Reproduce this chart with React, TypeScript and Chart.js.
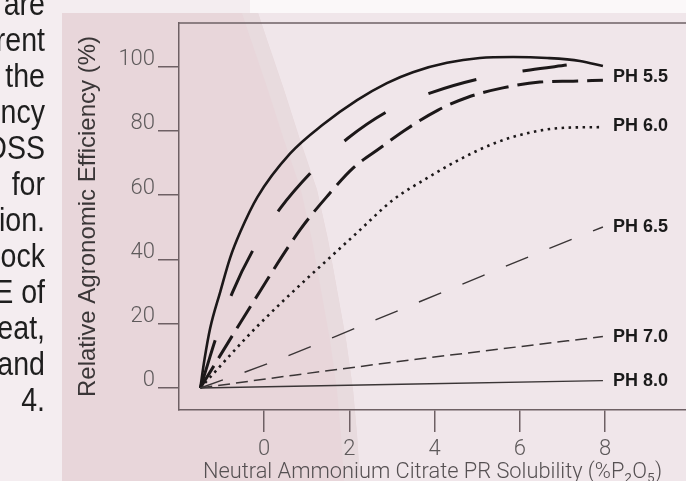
import React, { useEffect, useRef } from "react";
import { Chart, registerables } from "chart.js";

Chart.register(...registerables);

// ---------- data ----------
const xTicks = [0, 2, 4, 6, 8];
const yTicks = [0, 20, 40, 60, 80, 100];

const xTitle = "Neutral Ammonium Citrate PR Solubility (%P\u2082O\u2085)";
const yTitle = "Relative Agronomic Efficiency (%)";

// PH 5.5 family (three thick curves)
const ph55SolidX = [-1.5, -1.4, -1.27, -1.03, -0.8, -0.56, -0.16, 0.61, 1.38, 2.18, 2.88, 3.49, 4.29, 5.06, 5.84, 6.64, 7.41, 7.95];
const ph55SolidY = [0, 9, 18.5, 30, 40.5, 48.6, 59.4, 73, 82, 89.6, 94.9, 98.3, 101.2, 102.7, 103, 102.7, 101.8, 100.2];

const ph55LongDashX = [-1.5, -1.34, -1.15, -0.75, -0.26, 0.38, 1.15, 1.97, 2.95, 3.96, 5.13, 6.24, 7.1];
const ph55LongDashY = [0, 6.8, 14.9, 29.6, 43, 56, 67.8, 77.8, 86.5, 92.1, 96.5, 99, 100.5];

const ph55DashX = [-1.5, -0.33, 0.84, 1.5, 2.09, 2.72, 3.31, 4.08, 4.78, 5.6, 6.47, 7.25, 7.95];
const ph55DashY = [0, 25.2, 49.2, 60, 68.5, 74.7, 80.3, 86.5, 90.5, 93.4, 95.2, 95.5, 95.8];

const ph60X = [-1.5, -0.17, 2.25, 3.02, 3.82, 4.6, 5.37, 6.17, 6.94, 7.95];
const ph60Y = [0, 19.1, 49.2, 58.5, 65.3, 71.2, 76, 79.3, 80.9, 81.2];

const ph65X = [-1.5, 0.21, 2.32, 4.48, 6.59, 7.95];
const ph65Y = [0, 8.2, 19.6, 31.4, 42.9, 50.1];

const ph70X = [-1.5, 0.7, 3.8, 7.95];
const ph70Y = [0, 4, 9.3, 16];

const ph80X = [-1.5, 7.95];
const ph80Y = [0, 2.3];

const phLabels = ["PH 5.5", "PH 6.0", "PH 6.5", "PH 7.0", "PH 8.0"];
const phLabelY = [96.8, 81.6, 50.1, 15.9, 2.2];

const sideTextLines = ["are", "rent", "the", "ncy", "DSS", "for", "ion.", "ock", "E of", "eat,", "and", "4."];

// ---------- styles ----------
const axisColor = "#6e6064";
const tickColor = "#5e5a5b";
const lineDark = "#1c1819";
const sans = "'Liberation Sans', Arial, Helvetica, sans-serif";
const light = "Roboto, 'Liberation Sans', Arial, sans-serif";

const toPoints = (xs: number[], ys: number[]) => xs.map((x, i) => ({ x, y: ys[i] }));

const backgroundPlugin = {
  id: "pageBackground",
  beforeDraw(chart: any) {
    const { ctx, width, height } = chart;
    ctx.save();
    // text column / page
    ctx.fillStyle = "#f4edf0";
    ctx.fillRect(0, 0, width, height);
    // top strip to the right of the wedge
    ctx.fillStyle = "#fbf8f9";
    ctx.fillRect(250, 0, width - 250, 13);
    // panel
    ctx.fillStyle = "#f0e6ea";
    ctx.fillRect(62, 13, width - 62, height - 13);
    // pink wedge
    const edge = [
      [258, 13], [267, 40], [284, 90], [300, 140], [317, 190], [328, 240],
      [337, 290], [346, 340], [353, 390], [357, 435], [360, 481],
    ];
    ctx.beginPath();
    ctx.moveTo(62, 13);
    edge.forEach(([x, y]) => ctx.lineTo(x, y));
    ctx.lineTo(62, height);
    ctx.closePath();
    ctx.fillStyle = "#e8d6da";
    ctx.fill();
    // soft edge band
    ctx.beginPath();
    edge.forEach(([x, y], i) => (i === 0 ? ctx.moveTo(x, y) : ctx.lineTo(x, y)));
    for (let i = edge.length - 1; i >= 0; i--) ctx.lineTo(edge[i][0] - 16, edge[i][1]);
    ctx.closePath();
    ctx.fillStyle = "#e8dbde";
    ctx.fill();
    // side paragraph fragment
    ctx.fillStyle = "#1e1e1e";
    ctx.font = "34px " + sans;
    ctx.textAlign = "right";
    ctx.textBaseline = "alphabetic";
    sideTextLines.forEach((t, i) => {
      ctx.save();
      ctx.translate(45, 15 + 36 * i);
      ctx.scale(0.84, 1);
      ctx.fillText(t, 0, 0);
      ctx.restore();
    });
    ctx.restore();
  },
  afterDraw(chart: any) {
    const { ctx, chartArea } = chart;
    const xs = chart.scales.x;
    const ys = chart.scales.y;
    ctx.save();
    ctx.strokeStyle = axisColor;
    ctx.lineWidth = 1.5;
    ctx.beginPath();
    ctx.moveTo(chartArea.left - 0.75, chartArea.top);
    ctx.lineTo(chartArea.right, chartArea.top);
    ctx.stroke();
    ctx.fillStyle = "#1a1a1a";
    ctx.font = "bold 18px " + sans;
    ctx.textAlign = "left";
    ctx.textBaseline = "middle";
    const lx = xs.getPixelForValue(8) + 8;
    phLabels.forEach((t, i) => ctx.fillText(t, lx, ys.getPixelForValue(phLabelY[i])));
    ctx.restore();
  },
};

export default function App() {
  const ref = useRef<HTMLCanvasElement | null>(null);

  useEffect(() => {
    if (!ref.current) return;
    const ds = (label: string, xs: number[], ys: number[], extra: any) => ({
      label,
      data: toPoints(xs, ys),
      borderColor: lineDark,
      pointRadius: 0,
      fill: false,
      cubicInterpolationMode: "monotone",
      borderCapStyle: "butt",
      ...extra,
    });
    const chart = new Chart(ref.current, {
      type: "line",
      data: {
        datasets: [
          ds("PH 8.0", ph80X, ph80Y, { borderWidth: 1.4, borderColor: "#3a3536" }),
          ds("PH 7.0", ph70X, ph70Y, { borderWidth: 1.5, borderDash: [12, 6], borderColor: "#3a3536" }),
          ds("PH 6.5", ph65X, ph65Y, { borderWidth: 1.4, borderDash: [24, 23], borderColor: "#3a3536" }),
          ds("PH 6.0", ph60X, ph60Y, { borderWidth: 2.6, borderDash: [2.5, 4.5] }),
          ds("PH 5.5 (dashed)", ph55DashX, ph55DashY, { borderWidth: 3, borderDash: [26, 9] }),
          ds("PH 5.5 (long dash)", ph55LongDashX, ph55LongDashY, { borderWidth: 3, borderDash: [50, 47] }),
          ds("PH 5.5", ph55SolidX, ph55SolidY, { borderWidth: 2.6 }),
        ],
      },
      options: {
        animation: false,
        responsive: false,
        events: [],
        layout: { padding: { left: 0, right: 0, top: 23, bottom: 0 } },
        plugins: { legend: { display: false }, tooltip: { enabled: false } },
        scales: {
          x: {
            type: "linear",
            min: -2,
            max: 9.9,
            afterBuildTicks: (s: any) => {
              s.ticks = xTicks.map((v) => ({ value: v }));
            },
            afterFit: (s: any) => {
              s.height = 71;
            },
            grid: { drawOnChartArea: false, drawTicks: true, tickLength: 22, color: axisColor, lineWidth: 1.5 },
            border: { display: true, color: axisColor, width: 1.5 },
            ticks: {
              autoSkip: false,
              maxRotation: 0,
              padding: 4,
              color: tickColor,
              font: { family: light, size: 22, weight: "300" },
              callback: (v: any) => String(v),
            },
            title: {
              display: true,
              text: xTitle,
              color: "#555052",
              font: { family: light, size: 21.8, weight: "300", lineHeight: 1 },
              padding: { top: 0, bottom: -2.5 },
            },
          },
          y: {
            type: "linear",
            min: -6.85,
            max: 113.6,
            afterBuildTicks: (s: any) => {
              s.ticks = yTicks.map((v) => ({ value: v }));
            },
            afterFit: (s: any) => {
              s.width = 179;
            },
            grid: { drawOnChartArea: false, drawTicks: true, tickLength: 21, color: axisColor, lineWidth: 1.5 },
            border: { display: true, color: axisColor, width: 1.5 },
            ticks: {
              padding: 3,
              labelOffset: -7,
              color: tickColor,
              font: { family: light, size: 22, weight: "300" },
              callback: (v: any) => String(v),
            },
            title: {
              display: true,
              text: yTitle,
              color: "#3a3637",
              font: { family: sans, size: 24, lineHeight: 1.2 },
              padding: { top: 74.1, bottom: 0 },
            },
          },
        },
      },
      plugins: [backgroundPlugin],
    } as any);
    return () => chart.destroy();
  }, []);

  return (
    <div style={{ position: "fixed", left: 0, top: 0, width: 686, height: 481, overflow: "hidden" }}>
      <canvas ref={ref} width={686} height={481} style={{ display: "block", width: 686, height: 481 }} />
    </div>
  );
}
